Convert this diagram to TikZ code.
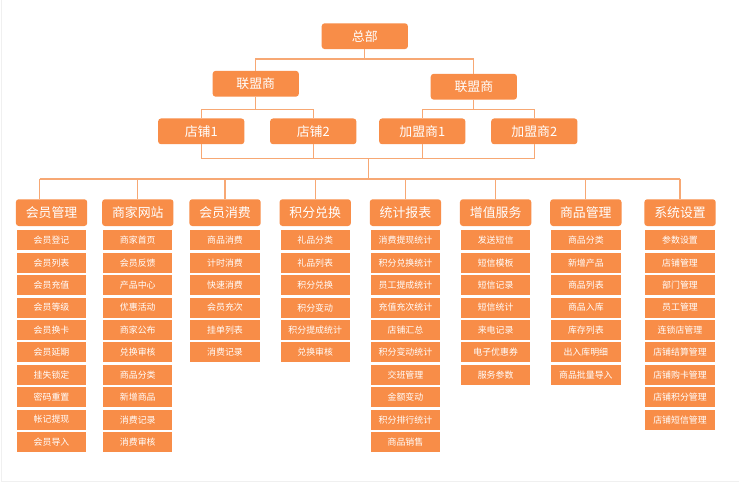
\documentclass[tikz,border=0pt]{standalone}
\usepackage{fontspec}
\setmainfont{Noto Sans CJK SC}
\definecolor{org}{HTML}{F88D48}
\definecolor{ln}{HTML}{F7A874}
\begin{document}
\begin{tikzpicture}[x=1pt,y=-1pt,
  big/.style={fill=org,rounded corners=3pt,text=white,minimum width=87pt,minimum height=26pt,inner sep=0pt,font=\fontsize{13}{13}\selectfont},
  cat/.style={fill=org,rounded corners=3pt,text=white,minimum width=72pt,minimum height=27pt,inner sep=0pt,font=\fontsize{13}{13}\selectfont},
  sub/.style={fill=org,text=white,minimum width=70pt,minimum height=20pt,inner sep=0pt,font=\fontsize{9}{9}\selectfont},
  conn/.style={draw=ln,line width=1.2pt}]
\fill[white] (0,0) rectangle (739,485);
\draw[draw=gray!12,line width=1pt] (2,-5) -- (2,480) -- (745,480);
\node[big] (hq) at (368,31) {总部};
\node[big] (l1) at (258,79) {联盟商};
\node[big] (l2) at (478,82) {联盟商};
\node[big] (s1) at (203,127) {店铺1};
\node[big] (s2) at (316,127) {店铺2};
\node[big] (j1) at (426,127) {加盟商1};
\node[big] (j2) at (539,127) {加盟商2};
\coordinate (hb) at (368,54);
\draw[conn] (hq.south) -- (hb) -- (258,54) -- (l1.north);
\draw[conn] (hb) -- (478,54) -- (l2.north);
\draw[conn] (l1.south) -- (258,105) -- (203,105) -- (s1.north);
\draw[conn] (258,105) -- (316,105) -- (s2.north);
\draw[conn] (l2.south) -- (478,105) -- (426,105) -- (j1.north);
\draw[conn] (478,105) -- (539,105) -- (j2.north);
\draw[conn] (s1.south) -- (203,154) -- (539,154) -- (j2.south);
\draw[conn] (s2.south) -- (316,154);
\draw[conn] (j1.south) -- (426,154);
\coordinate (cb) at (372,175);
\draw[conn] (372,154) -- (cb);
\draw[conn] (40,175) -- (686,175);
\foreach \x/\lab/\items [count=\i] in {
 52/会员管理/{会员登记,会员列表,会员充值,会员等级,会员换卡,会员延期,挂失锁定,密码重置,帐记提现,会员导入},
 139/商家网站/{商家首页,会员反馈,产品中心,优惠活动,商家公布,兑换审核,商品分类,新增商品,消费记录,消费审核},
 227/会员消费/{商品消费,计时消费,快速消费,会员充次,挂单列表,消费记录},
 318/积分兑换/{礼品分类,礼品列表,积分兑换,积分变动,积分提成统计,兑换审核},
 409/统计报表/{消费提现统计,积分兑换统计,员工提成统计,充值充次统计,店铺汇总,积分变动统计,交班管理,金额变动,积分排行统计,商品销售},
 500/增值服务/{发送短信,短信模板,短信记录,短信统计,来电记录,电子优惠券,服务参数},
 591/商品管理/{商品分类,新增产品,商品列表,商品入库,库存列表,出入库明细,商品批量导入},
 686/系统设置/{参数设置,店铺管理,部门管理,员工管理,连锁店管理,店铺结算管理,店铺购卡管理,店铺积分管理,店铺短信管理}} {
  \node[cat] (c\i) at (\x,209) {\lab};
  \foreach \t [count=\j] in \items {
    \node[sub] (c\i s\j) at (\x,{237+22.6*(\j-1)}) {\t};
  }
}
\draw[conn] (40,175) -- (40,195.5);
\foreach \i in {2,...,8} \draw[conn] (c\i.north |- cb) -- (c\i.north);
\end{tikzpicture}
\end{document}
